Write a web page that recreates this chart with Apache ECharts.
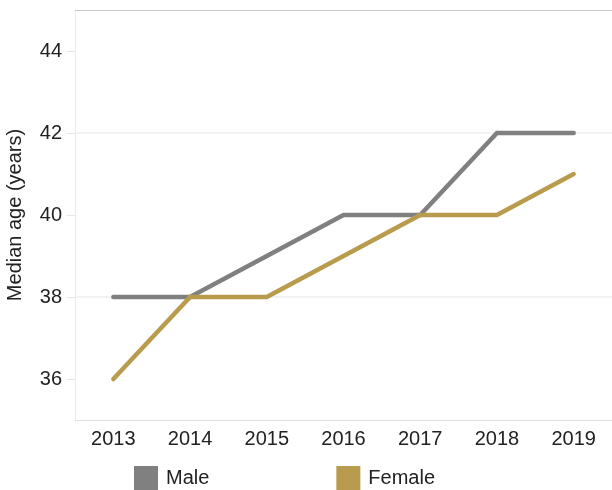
<!DOCTYPE html>
<html>
<head>
<meta charset="utf-8">
<script src="https://cdn.jsdelivr.net/npm/echarts@6/dist/echarts.min.js"></script>
<style>
  html, body { margin: 0; padding: 0; background: #fff; }
  #chart { width: 612px; height: 490px; }
</style>
</head>
<body>
<div id="chart"></div>
<script>
// data
var years = ['2013', '2014', '2015', '2016', '2017', '2018', '2019'];
var male = [38, 38, 39, 40, 40, 42, 42];
var female = [36, 38, 38, 39, 40, 40, 41];
var yTicks = [36, 38, 40, 42, 44];

var font = 'Liberation Sans, Arial, sans-serif';

var chart = echarts.init(document.getElementById('chart'));
var option = {
  animation: false,
  grid: { left: 75, right: 0, top: 10, bottom: 70, containLabel: false, outerBoundsMode: 'none' },
  legend: {
    data: ['Male', 'Female'],
    left: 134,
    top: 466,
    padding: 0,
    itemWidth: 24,
    itemHeight: 24,
    itemGap: 127,
    icon: 'rect',
    textStyle: { fontFamily: font, fontSize: 20, color: '#222', padding: [0, 0, 0, 3] }
  },
  xAxis: [{
    type: 'category',
    data: years,
    boundaryGap: true,
    axisLine: { lineStyle: { color: '#e0e0e0' } },
    axisTick: { length: 8, lineStyle: { color: '#e0e0e0' } },
    axisLabel: { fontFamily: font, fontSize: 20, color: '#222', margin: 9 }
  }, {
    type: 'category',
    data: years,
    position: 'top',
    axisLine: { lineStyle: { color: '#cccccc' } },
    axisTick: { show: false },
    axisLabel: { show: false }
  }],
  yAxis: {
    type: 'value',
    min: 35,
    max: 45,
    interval: 1,
    name: 'Median age (years)',
    nameLocation: 'middle',
    nameGap: 50,
    nameTextStyle: { fontFamily: font, fontSize: 20, color: '#222' },
    axisLine: { show: true, lineStyle: { color: '#eaeaea' } },
    axisTick: { show: true, length: 8, customValues: yTicks, lineStyle: { color: '#e6e6e6' } },
    axisLabel: { fontFamily: font, fontSize: 20, color: '#222', margin: 13, customValues: yTicks },
    // only the even values get a grid line
    splitLine: { show: true, lineStyle: { color: ['rgba(0,0,0,0)', '#eeeeee'], width: 1.5 } }
  },
  series: [{
    name: 'Male',
    type: 'line',
    data: male,
    symbol: 'none',
    color: '#808080',
    lineStyle: { width: 4.5, cap: 'round', join: 'miter' }
  }, {
    name: 'Female',
    type: 'line',
    data: female,
    symbol: 'none',
    color: '#b89b4c',
    lineStyle: { width: 4.5, cap: 'round', join: 'miter' }
  }]
};
chart.setOption(option);
</script>
</body>
</html>
